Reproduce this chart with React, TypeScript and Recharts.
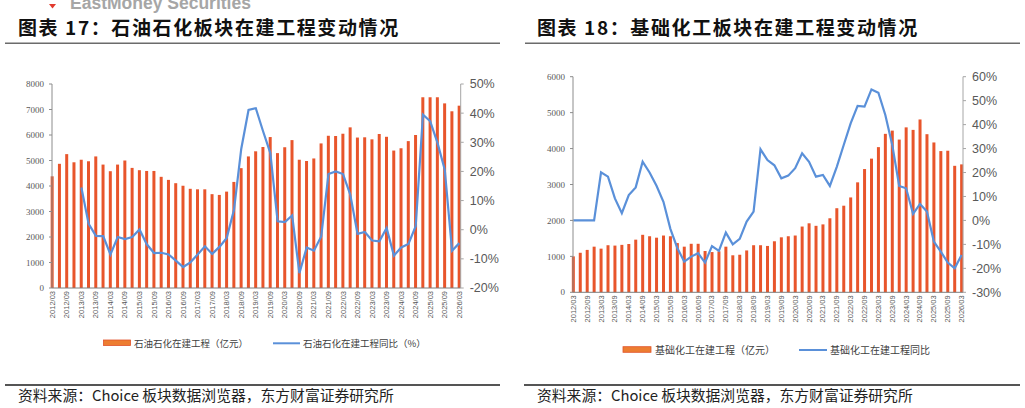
import React from 'react';
import { ComposedChart, Bar, Line, XAxis, YAxis } from 'recharts';

const periods = [
  '2012/03','2012/06','2012/09','2012/12','2013/03','2013/06','2013/09','2013/12',
  '2014/03','2014/06','2014/09','2014/12','2015/03','2015/06','2015/09','2015/12',
  '2016/03','2016/06','2016/09','2016/12','2017/03','2017/06','2017/09','2017/12',
  '2018/03','2018/06','2018/09','2018/12','2019/03','2019/06','2019/09','2019/12',
  '2020/03','2020/06','2020/09','2020/12','2021/03','2021/06','2021/09','2021/12',
  '2022/03','2022/06','2022/09','2022/12','2023/03','2023/06','2023/09','2023/12',
  '2024/03','2024/06','2024/09','2024/12','2025/03','2025/06','2025/09','2025/12',
  '2026/03',
];

// 石油石化在建工程（亿元）
const petroValue = [
  4380, 4870, 5250, 4930, 5030, 4970, 5160, 4840,
  4580, 4840, 5000, 4710, 4620, 4590, 4590, 4360,
  4240, 4110, 4010, 3890, 3870, 3870, 3680, 3650,
  3780, 4160, 4700, 5160, 5360, 5530, 5920, 5290,
  5520, 5800, 5030, 4980, 5080, 5670, 5970, 5960,
  6050, 6300, 5900, 5910, 5830, 6040, 5930, 5390,
  5480, 5760, 6000, 7480, 7480, 7480, 7240, 6930,
  7150,
];

// 石油石化在建工程同比（%）
const petroYoy = [
  null, null, null, null, 14.5, 2.0, -2.1, -2.2,
  -8.5, -2.5, -3.2, -2.5, 0.1, -5.0, -8.0, -7.9,
  -8.5, -10.6, -12.8, -11.2, -8.5, -5.7, -8.3, -5.9,
  -2.8, 6.8, 27.8, 41.1, 41.7, 33.8, 26.3, 2.9,
  2.6, 4.9, -14.9, -6.1, -7.2, -2.3, 19.1, 20.0,
  19.1, 12.0, -1.4, -0.8, -3.7, -4.0, 0.6, -8.9,
  -6.1, -4.9, 1.2, 39.5, 37.2, 29.8, 20.6, -7.2,
  -4.6,
];

// 基础化工在建工程（亿元）
const chemValue = [
  1000, 1100, 1180, 1270, 1215, 1310, 1300, 1320,
  1345, 1465, 1600, 1560, 1520, 1580, 1560, 1370,
  1270, 1350, 1350, 1150, 1120, 1140, 1270, 1030,
  1045, 1165, 1310, 1310, 1290, 1420, 1530, 1560,
  1580, 1830, 1920, 1850, 1890, 2060, 2340, 2410,
  2640, 3060, 3430, 3720, 4040, 4410, 4500, 4250,
  4590, 4520, 4810, 4400, 4170, 3930, 3940, 3520,
  3560,
];

// 基础化工在建工程同比（%）
const chemYoy = [
  0, 0, 0, 0, 20.1, 18.3, 9.2, 3.0,
  10.6, 13.8, 24.5, 20.0, 14.5, 7.8, -3.5, -11.5,
  -17.2, -15.1, -13.7, -17.6, -10.7, -12.7, -5.1, -10.0,
  -7.7, -0.5, 3.7, 29.7, 25.2, 23.0, 17.6, 18.7,
  21.8, 28.0, 24.5, 18.3, 19.0, 14.4, 22.4, 31.5,
  40.5, 47.8, 47.5, 54.7, 53.3, 44.0, 31.5, 14.4,
  13.4, 2.7, 6.9, 3.7, -8.8, -13.0, -17.6, -20.0,
  -14.4,
];

const petroLeftTicks = [0, 1000, 2000, 3000, 4000, 5000, 6000, 7000, 8000];
const petroRightTicks = [-20, -10, 0, 10, 20, 30, 40, 50];
const chemLeftTicks = [0, 1000, 2000, 3000, 4000, 5000, 6000];
const chemRightTicks = [-30, -20, -10, 0, 10, 20, 30, 40, 50, 60];

const petroData = periods.map((p, i) => ({ i, period: p, value: petroValue[i], yoy: petroYoy[i] }));
const chemData = periods.map((p, i) => ({ i, period: p, value: chemValue[i], yoy: chemYoy[i] }));
const labelTicks = periods.map((_, i) => i).filter((i) => i % 2 === 0);

const BAR = '#E8552B';
const LINE = '#5A90D9';
const GRAY = '#595959';
const CJK = '"Noto Sans CJK SC", "Noto Sans", sans-serif';

const XTick = (props: any) => {
  const { x, y, payload } = props;
  return (
    <text
      x={x}
      y={y}
      transform={`rotate(-90 ${x} ${y})`}
      textAnchor="end"
      dominantBaseline="central"
      fontSize={7.5}
      fill={GRAY}
      fontFamily="Liberation Sans, Arial, sans-serif"
    >
      {periods[payload.value]}
    </text>
  );
};

type PanelProps = {
  data: any[];
  leftTicks: number[];
  rightTicks: number[];
  width: number;
  height: number;
  margin: any;
  leftW: number;
  rightW: number;
};

const Panel = ({ data, leftTicks, rightTicks, width, height, margin, leftW, rightW }: PanelProps) => (
  <ComposedChart width={width} height={height} data={data} margin={margin}>
    <XAxis
      xAxisId="x"
      type="number"
      dataKey="i"
      domain={[0, 56]}
      ticks={labelTicks}
      interval={0}
      padding={{ left: 0.3, right: 1.4 }}
      tick={<XTick />}
      tickLine={false}
      tickSize={0}
      tickMargin={3}
      height={40}
      axisLine={{ stroke: '#7f7f7f', strokeWidth: 1 }}
    />
    <YAxis
      yAxisId="left"
      orientation="left"
      domain={[leftTicks[0], leftTicks[leftTicks.length - 1]]}
      ticks={leftTicks}
      interval={0}
      width={leftW}
      tick={{ fontSize: 9, fill: GRAY, fontFamily: 'Liberation Serif, serif' }}
      tickSize={3}
      tickMargin={5}
      axisLine={{ stroke: '#8c8c8c' }}
      tickLine={{ stroke: '#8c8c8c' }}
    />
    <YAxis
      yAxisId="right"
      orientation="right"
      domain={[rightTicks[0], rightTicks[rightTicks.length - 1]]}
      ticks={rightTicks}
      interval={0}
      width={rightW}
      tickFormatter={(v: number) => `${v}%`}
      tick={{ fontSize: 12.5, fill: GRAY, fontFamily: 'Liberation Sans, Arial, sans-serif', textAnchor: 'start' }}
      tickSize={3}
      tickMargin={6}
      axisLine={{ stroke: '#a6a6a6' }}
      tickLine={{ stroke: '#a6a6a6' }}
    />
    <Bar xAxisId="x" yAxisId="left" dataKey="value" fill={BAR} barSize={3} isAnimationActive={false} />
    <Line
      xAxisId="x"
      yAxisId="right"
      type="linear"
      dataKey="yoy"
      stroke={LINE}
      strokeWidth={2.2}
      dot={false}
      activeDot={false}
      connectNulls={false}
      isAnimationActive={false}
    />
  </ComposedChart>
);

export default function App() {
  return (
    <div style={{ position: 'fixed', left: 0, top: 0, width: 1025, height: 408, background: '#fff', overflow: 'hidden' }}>
      {/* left chart: plot x 52..460.7, y 84..288 */}
      <div style={{ position: 'absolute', left: 0, top: 0 }}>
        <Panel
          data={petroData}
          leftTicks={petroLeftTicks}
          rightTicks={petroRightTicks}
          width={512}
          height={330}
          margin={{ top: 84, right: 11.3, bottom: 2, left: 12 }}
          leftW={40}
          rightW={40}
        />
      </div>
      {/* right chart: plot x 573..963, y 76.7..292.3 */}
      <div style={{ position: 'absolute', left: 512, top: 0 }}>
        <Panel
          data={chemData}
          leftTicks={chemLeftTicks}
          rightTicks={chemRightTicks}
          width={513}
          height={340}
          margin={{ top: 76.7, right: 12, bottom: 7.7, left: 16 }}
          leftW={45}
          rightW={50}
        />
      </div>
      <svg width={1025} height={408} style={{ position: 'absolute', left: 0, top: 0, pointerEvents: 'none' }}>
        <polygon points="49,4 56,4 52.5,8.5" fill="#E23A2E" />
        <text x={70} y={9} fontSize={17.5} fontWeight={700} fill="#a6a6a6" fontFamily="Liberation Sans, Arial, sans-serif">
          EastMoney Securities
        </text>

        <text x={18} y={26.5} dominantBaseline="central" fontSize={19} fontWeight={700} fill="#111" fontFamily={CJK} letterSpacing={1.6}>
          图表 17：石油石化板块在建工程变动情况
        </text>
        <text x={537} y={26.5} dominantBaseline="central" fontSize={19} fontWeight={700} fill="#111" fontFamily={CJK} letterSpacing={1.6}>
          图表 18：基础化工板块在建工程变动情况
        </text>
        <line x1={5} y1={43.3} x2={500} y2={43.3} stroke="#6b6b6b" strokeWidth={1.5} />
        <line x1={525} y1={43.3} x2={1020} y2={43.3} stroke="#6b6b6b" strokeWidth={1.5} />

        {/* legends */}
        <rect x={103.5} y={340} width={27} height={5.5} fill="#ED7D31" stroke="#E0532A" strokeWidth={0.8} />
        <text x={134} y={342.8} dominantBaseline="central" fontSize={9.5} fill="#404040" fontFamily={CJK}>
          石油石化在建工程（亿元）
        </text>
        <line x1={273} y1={343.3} x2={300} y2={343.3} stroke={LINE} strokeWidth={2} />
        <text x={303} y={342.8} dominantBaseline="central" fontSize={9.5} fill="#404040" fontFamily={CJK}>
          石油石化在建工程同比（%）
        </text>

        <rect x={623} y={346.7} width={28} height={5.6} fill="#ED7D31" stroke="#E0532A" strokeWidth={0.8} />
        <text x={655} y={349.4} dominantBaseline="central" fontSize={10} fill="#404040" fontFamily={CJK}>
          基础化工在建工程（亿元）
        </text>
        <line x1={799} y1={350} x2={827} y2={350} stroke={LINE} strokeWidth={2} />
        <text x={830} y={349.4} dominantBaseline="central" fontSize={10} fill="#404040" fontFamily={CJK}>
          基础化工在建工程同比
        </text>

        <line x1={5} y1={385} x2={500} y2={385} stroke="#555" strokeWidth={1.8} />
        <line x1={524} y1={385} x2={1020} y2={385} stroke="#555" strokeWidth={1.8} />
        <text x={18} y={394} dominantBaseline="central" fontSize={14.8} fill="#222" fontFamily={CJK}>
          资料来源：Choice 板块数据浏览器，东方财富证券研究所
        </text>
        <text x={537} y={394} dominantBaseline="central" fontSize={14.8} fill="#222" fontFamily={CJK}>
          资料来源：Choice 板块数据浏览器，东方财富证券研究所
        </text>
      </svg>
    </div>
  );
}
